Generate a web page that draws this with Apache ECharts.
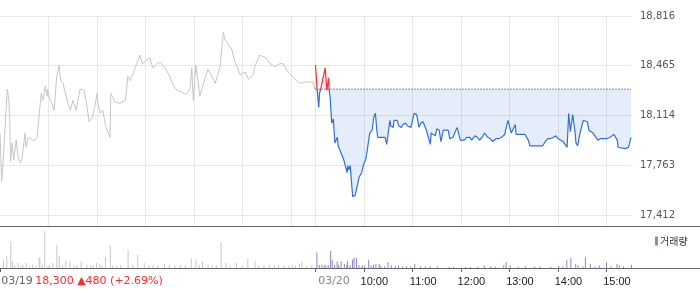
<!DOCTYPE html>
<html><head><meta charset="utf-8">
<script src="https://cdn.jsdelivr.net/npm/echarts@6/dist/echarts.min.js"></script>
<style>html,body{margin:0;padding:0;background:#fff}#c{width:700px;height:289px}</style>
</head><body><div id="c"></div>
<script>
// ---- data (x = minutes since 03/19 09:00 on a two-session axis; 03/20 09:00 = 390) ----
const TOTAL = 780;
const yTicks = [17412, 17763, 18114, 18465, 18816];
const yMin = 17334, yMax = 18816;
const prevClose = 18300;
const gridMinutes = [60, 120, 180, 240, 300, 360, 390, 450, 510, 570, 630, 690, 750];
const tickMinutes = [0, 390, 450, 510, 570, 630, 690, 750];
const tickLabels = ['03/19', '03/20', '10:00', '11:00', '12:00', '13:00', '14:00', '15:00'];
const headerText = '18,300 ▲480 (+2.69%)';
const volumeName = '거래량';
const refLine = [[390, 18300], [780, 18300]];

const day1Price = [
[0,17990],[2,17650],[4,17800],[5,17900],[9,18300],[11,18220],[12,18100],[13,17790],[15,17920],[17,17800],
[20,17940],[22,17830],[25,17780],[27,17800],[31,17990],[32,17890],[35,17960],[40,17940],[43,17940],[46,17960],
[48,18100],[51,18270],[53,18220],[56,18320],[58,18250],[59,18300],[62,18220],[64,18200],[67,18150],[70,18390],
[73,18470],[75,18360],[78,18340],[80,18290],[84,18200],[87,18150],[90,18220],[94,18150],[99,18300],[104,18290],
[108,18160],[110,18070],[114,18100],[117,18170],[120,18270],[121,18200],[124,18130],[127,18150],[131,18030],[136,17960],
[137,18270],[142,18210],[148,18200],[155,18220],[158,18390],[161,18360],[162,18380],[164,18400],[167,18450],[173,18540],
[176,18480],[178,18470],[180,18500],[185,18520],[189,18450],[194,18480],[198,18490],[204,18450],[210,18390],[214,18330],
[219,18290],[225,18280],[229,18260],[235,18300],[237,18450],[239,18220],[242,18470],[245,18350],[247,18250],[251,18330],
[257,18440],[262,18390],[266,18340],[269,18400],[272,18460],[276,18700],[278,18650],[281,18630],[283,18600],[286,18590],
[290,18500],[297,18400],[303,18420],[307,18370],[309,18360],[313,18400],[315,18460],[321,18540],[325,18530],[329,18520],
[334,18480],[340,18460],[346,18480],[350,18480],[355,18430],[358,18410],[363,18380],[367,18360],[371,18340],[373,18330],
[377,18350],[383,18350],[387,18350],[389,18300]
];
const day2Price = [
[390,18470],[392,18300],[394,18170],[395,18270],[396,18290],[398,18300],[402,18450],[404,18290],[406,18380],[407,18290],
[408,18250],[410,18060],[412,18090],[414,17920],[417,17960],[418,17900],[420,17870],[423,17830],[425,17800],[429,17710],
[430,17760],[431,17730],[433,17760],[434,17680],[436,17540],[439,17550],[441,17540],[444,17680],[447,17710],[450,17780],
[452,17800],[454,17870],[457,17990],[460,18010],[462,18100],[464,18130],[466,18000],[467,17960],[471,17960],[476,17960],
[478,17910],[482,18080],[483,18040],[486,18030],[487,18080],[491,18080],[493,18040],[496,18030],[498,18050],[501,18060],
[504,18040],[508,18030],[512,18130],[515,18120],[518,18030],[520,18060],[523,18070],[527,18010],[529,18000],[532,17910],
[533,17990],[535,17990],[538,17970],[540,18020],[543,18010],[545,17930],[548,18010],[549,18010],[554,18010],[556,17950],
[560,17960],[565,18030],[569,17940],[574,17940],[577,17960],[581,17960],[583,17940],[587,17970],[590,17960],[593,17940],
[597,17970],[599,17990],[603,17960],[606,17950],[609,17930],[613,17950],[616,17950],[620,17960],[624,17980],[625,18010],
[628,18080],[630,18080],[632,17990],[634,17990],[637,18050],[638,17980],[640,17980],[645,17980],[649,17980],[653,17940],
[655,17900],[661,17900],[667,17900],[671,17900],[674,17930],[677,17950],[680,17950],[684,17960],[686,17950],[687,17970],
[690,17950],[692,17960],[696,17930],[698,17930],[701,17890],[703,18130],[705,18000],[706,17990],[708,18120],[711,17990],
[712,17920],[714,17900],[717,17990],[719,17990],[721,18080],[723,18080],[726,18070],[728,18010],[729,18000],[733,17990],
[735,17990],[739,17940],[742,17950],[744,17960],[747,17950],[750,17950],[754,17960],[759,17980],[763,17940],[764,17890],
[766,17880],[773,17880],[777,17890],[780,17960]
];
const day1Volume = [
[0,21700],[5,8300],[9,11700],[14,26700],[16,6700],[19,3000],[23,5000],[26,2500],[29,3300],[33,5000],[37,2000],[41,3300],
[45,2500],[49,11000],[50,10000],[53,3000],[56,36700],[60,2500],[62,3300],[66,5000],[71,23300],[74,11700],[78,3000],
[82,7300],[87,6700],[92,2500],[96,3000],[101,6700],[108,3300],[113,2500],[116,3000],[120,5000],[124,4000],[127,2500],
[131,11000],[137,22700],[140,3000],[145,2500],[150,3300],[159,18300],[165,3000],[171,13300],[179,5000],[185,2500],
[190,3000],[196,2500],[204,4000],[210,3300],[217,2500],[224,3000],[230,2500],[237,10000],[243,8300],[247,3000],[251,6700],
[258,3300],[263,2500],[268,3000],[274,25700],[280,5000],[285,2500],[293,5000],[300,3000],[307,9300],[316,6700],[320,2500],
[327,3000],[334,3300],[340,2500],[345,3000],[352,2500],[358,2700],[362,3000],[366,2500],[371,4000],[374,6000],[380,2500],[386,3000]
];
const day2Volume = [
[391,15700],[394,3000],[397,3300],[400,2500],[402,2700],[405,3000],[408,17300],[410,8300],[413,3000],[416,6700],[418,3000],
[421,6700],[425,4000],[428,3300],[429,6700],[432,3000],[435,8300],[437,10000],[440,10000],[443,3000],[447,2700],[450,2500],
[455,8300],[458,2500],[461,3300],[464,4000],[468,4000],[470,2000],[475,2000],[479,5700],[483,2700],[488,2000],[492,2700],
[497,1500],[502,1700],[507,1500],[512,4000],[519,1700],[525,1500],[531,1700],[540,1500],[555,1000],[560,1200],[575,1200],
[581,1000],[590,1200],[598,2700],[606,1700],[612,1200],[622,2700],[625,5700],[630,2700],[640,1200],[649,1700],[660,1200],
[667,1700],[680,1200],[690,2300],[695,1500],[700,8300],[705,10000],[711,4000],[714,2700],[720,1500],[723,10700],[729,4000],
[735,1500],[740,2700],[749,5700],[755,1500],[762,4000],[765,2700],[770,1500],[780,3300]
];
const volumeMax = 42000;

// ---- chart ----
function comma(v){ return String(v).replace(/\B(?=(\d{3})+(?!\d))/g, ','); }
const volAxisMax = TOTAL * 700 / 631;

const chart = echarts.init(document.getElementById('c'), null, {renderer: 'canvas'});
chart.setOption({
  animation: false,
  backgroundColor: '#fff',
  grid: [
    {left: 0, right: 69, top: 16, height: 210, outerBoundsMode: 'none', containLabel: false},
    {left: 0, right: 0, top: 226, height: 42, outerBoundsMode: 'none', containLabel: false}
  ],
  legend: {
    data: [volumeName], left: 650, top: 231, icon: 'rect', itemWidth: 3, itemHeight: 9,
    selectedMode: false,
    textStyle: {fontFamily: 'Noto Sans CJK KR', fontSize: 10, color: '#333', padding: [0, 0, 0, -3]}
  },
  xAxis: [
    {gridIndex: 0, type: 'value', min: 0, max: TOTAL,
      axisLine: {show: false}, axisTick: {show: false, customValues: gridMinutes},
      axisLabel: {show: false},
      splitLine: {show: true, lineStyle: {color: '#e8e8e8', width: 1}}},
    {gridIndex: 1, type: 'value', min: 0, max: volAxisMax, position: 'bottom',
      axisLine: {show: true, onZero: false, lineStyle: {color: '#666', width: 1}},
      axisTick: {show: true, customValues: tickMinutes, length: 4, lineStyle: {color: '#666'}},
      axisLabel: {
        customValues: tickMinutes, margin: 8, fontSize: 11,
        formatter: function (v) {
          const i = tickMinutes.indexOf(v);
          const t = tickLabels[i];
          if (i === 0) return '{sp| }{d|' + t + '}{r|' + headerText + '}';
          if (i === 1) return '{sp2| }{d2|' + t + '}';
          return '{h|' + t + '}';
        },
        rich: {
          sp: {width: 164},
          d: {width: 34, fontFamily: 'DejaVu Sans', fontSize: 11, color: '#666'},
          r: {width: 130, fontFamily: 'DejaVu Sans', fontSize: 11, color: '#ff2a2a'},
          sp2: {width: 37},
          d2: {width: 37, fontFamily: 'DejaVu Sans', fontSize: 11, color: '#888'},
          h: {width: 48, align: 'right', fontFamily: 'Liberation Sans', fontSize: 11, color: '#222'}
        }
      },
      splitLine: {show: false}},
    {gridIndex: 1, type: 'value', min: 0, max: volAxisMax, position: 'top',
      axisLine: {show: true, onZero: false, lineStyle: {color: '#666', width: 1}},
      axisTick: {show: false}, axisLabel: {show: false}, splitLine: {show: false}}
  ],
  yAxis: [
    {gridIndex: 0, type: 'value', position: 'right', min: yMin, max: yMax,
      axisLine: {show: false}, axisTick: {show: false, customValues: yTicks},
      axisLabel: {customValues: yTicks, margin: 9, color: '#555', fontFamily: 'DejaVu Sans', fontSize: 10,
        formatter: function (v) { return comma(v); }},
      splitLine: {show: true, lineStyle: {color: '#e8e8e8', width: 1}}},
    {gridIndex: 1, type: 'value', min: 0, max: volumeMax, show: false}
  ],
  visualMap: {
    type: 'piecewise', show: false, seriesIndex: 1, dimension: 1,
    pieces: [{gte: 0, lt: prevClose, color: '#2f6fd8'}, {gte: prevClose, lte: 100000, color: '#ff2e2e'}]
  },
  series: [
    {name: 'prev', type: 'line', xAxisIndex: 0, yAxisIndex: 0, data: day1Price, symbol: 'none', silent: true,
      lineStyle: {color: '#c3c5ca', width: 1}},
    {name: 'price', type: 'line', xAxisIndex: 0, yAxisIndex: 0, data: day2Price, symbol: 'none', silent: true,
      lineStyle: {width: 1.2},
      areaStyle: {color: 'rgba(47,111,216,0.12)', opacity: 1, origin: prevClose}},
    {name: 'ref', type: 'line', xAxisIndex: 0, yAxisIndex: 0, data: refLine, symbol: 'none', silent: true, z: 3,
      lineStyle: {type: [1, 2], color: '#333', width: 1}},
    {name: 'vol1', type: 'bar', xAxisIndex: 1, yAxisIndex: 1, data: day1Volume, barWidth: 1, silent: true,
      itemStyle: {color: '#c6c8cd'}},
    {name: volumeName, type: 'bar', xAxisIndex: 1, yAxisIndex: 1, data: day2Volume, barWidth: 1, silent: true,
      itemStyle: {color: '#9583cc'}}
  ]
});
</script>
</body></html>
